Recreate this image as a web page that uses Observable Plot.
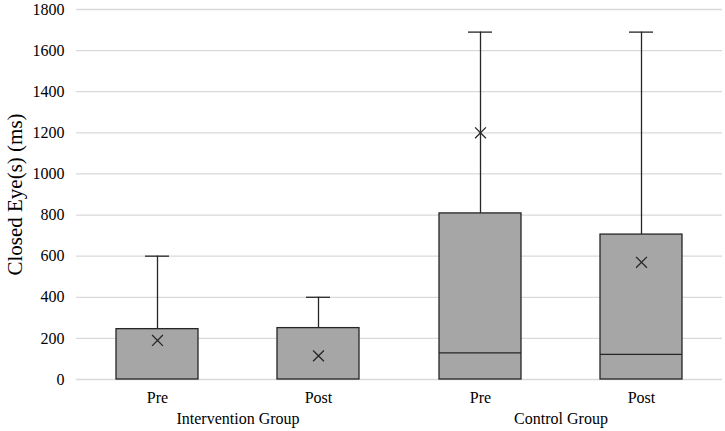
<!DOCTYPE html>
<html><head><meta charset="utf-8">
<script src="https://cdn.jsdelivr.net/npm/d3@7"></script>
<script src="https://cdn.jsdelivr.net/npm/@observablehq/plot@0.6"></script>
<style>body{margin:0;background:#fff}</style>
</head><body><div id="chart"></div>
<script>
const groups = ["Intervention Group", "Intervention Group", "Control Group", "Control Group"];
const phases = ["Pre", "Post", "Pre", "Post"];
const q1 = [0, 0, 0, 0];
const median = [0, 0, 130, 122];
const q3 = [245, 250, 808, 705];
const whiskerMax = [600, 400, 1690, 1690];
const mean = [190, 115, 1200, 570];
const yTicks = [0, 200, 400, 600, 800, 1000, 1200, 1400, 1600, 1800];
const yTitle = "Closed Eye(s) (ms)";

const data = groups.map((g, i) => ({group: g, phase: phases[i], q1: q1[i], median: median[i], q3: q3[i], max: whiskerMax[i], mean: mean[i]}));
const withMedian = data.filter(d => d.median > d.q1);

const font = "'Liberation Serif', 'Times New Roman', serif";
const chart = Plot.plot({
  width: 725, height: 431,
  marginTop: 9, marginBottom: 52, marginLeft: 76, marginRight: 3,
  style: {fontFamily: font, fontSize: "16px", color: "#000", background: "#fff"},
  fx: {domain: ["Intervention Group", "Control Group"], padding: 0, label: null},
  x: {domain: ["Pre", "Post"], paddingInner: 0.49, paddingOuter: 0.245, label: null},
  y: {domain: [0, 1800], ticks: yTicks, label: null},
  marks: [
    Plot.gridY(yTicks, {stroke: "#d9d9d9", strokeOpacity: 1, strokeWidth: 1.3}),
    Plot.axisY(yTicks, {tickSize: 0, tickPadding: 12, fontSize: 16, label: null, tickFormat: d => String(d)}),
    Plot.axisX({tickSize: 0, tickPadding: 12, fontSize: 16, label: null}),
    Plot.axisFx({anchor: "bottom", tickSize: 0, tickPadding: 33, fontSize: 16, label: null}),
    Plot.ruleX(data, {fx: "group", x: "phase", y1: "q3", y2: "max", stroke: "#262626", strokeWidth: 1.3}),
    Plot.tickY(data, {fx: "group", x: "phase", y: "max", stroke: "#262626", strokeWidth: 1.3, insetLeft: 29, insetRight: 29}),
    Plot.barY(data, {fx: "group", x: "phase", y1: "q1", y2: "q3", fill: "#a6a6a6", stroke: "#262626", strokeWidth: 1.3}),
    Plot.tickY(withMedian, {fx: "group", x: "phase", y: "median", stroke: "#262626", strokeWidth: 1.3}),
    Plot.dot(data, {fx: "group", x: "phase", y: "mean", symbol: "times", r: 5, stroke: "#262626", strokeWidth: 1.3}),
    Plot.text([yTitle], {fx: () => "Intervention Group", frameAnchor: "left", textAnchor: "middle", rotate: -90, dx: -61, fontSize: 21, fontFamily: font, fill: "#000"})
  ]
});
document.getElementById("chart").appendChild(chart);
</script></body></html>
